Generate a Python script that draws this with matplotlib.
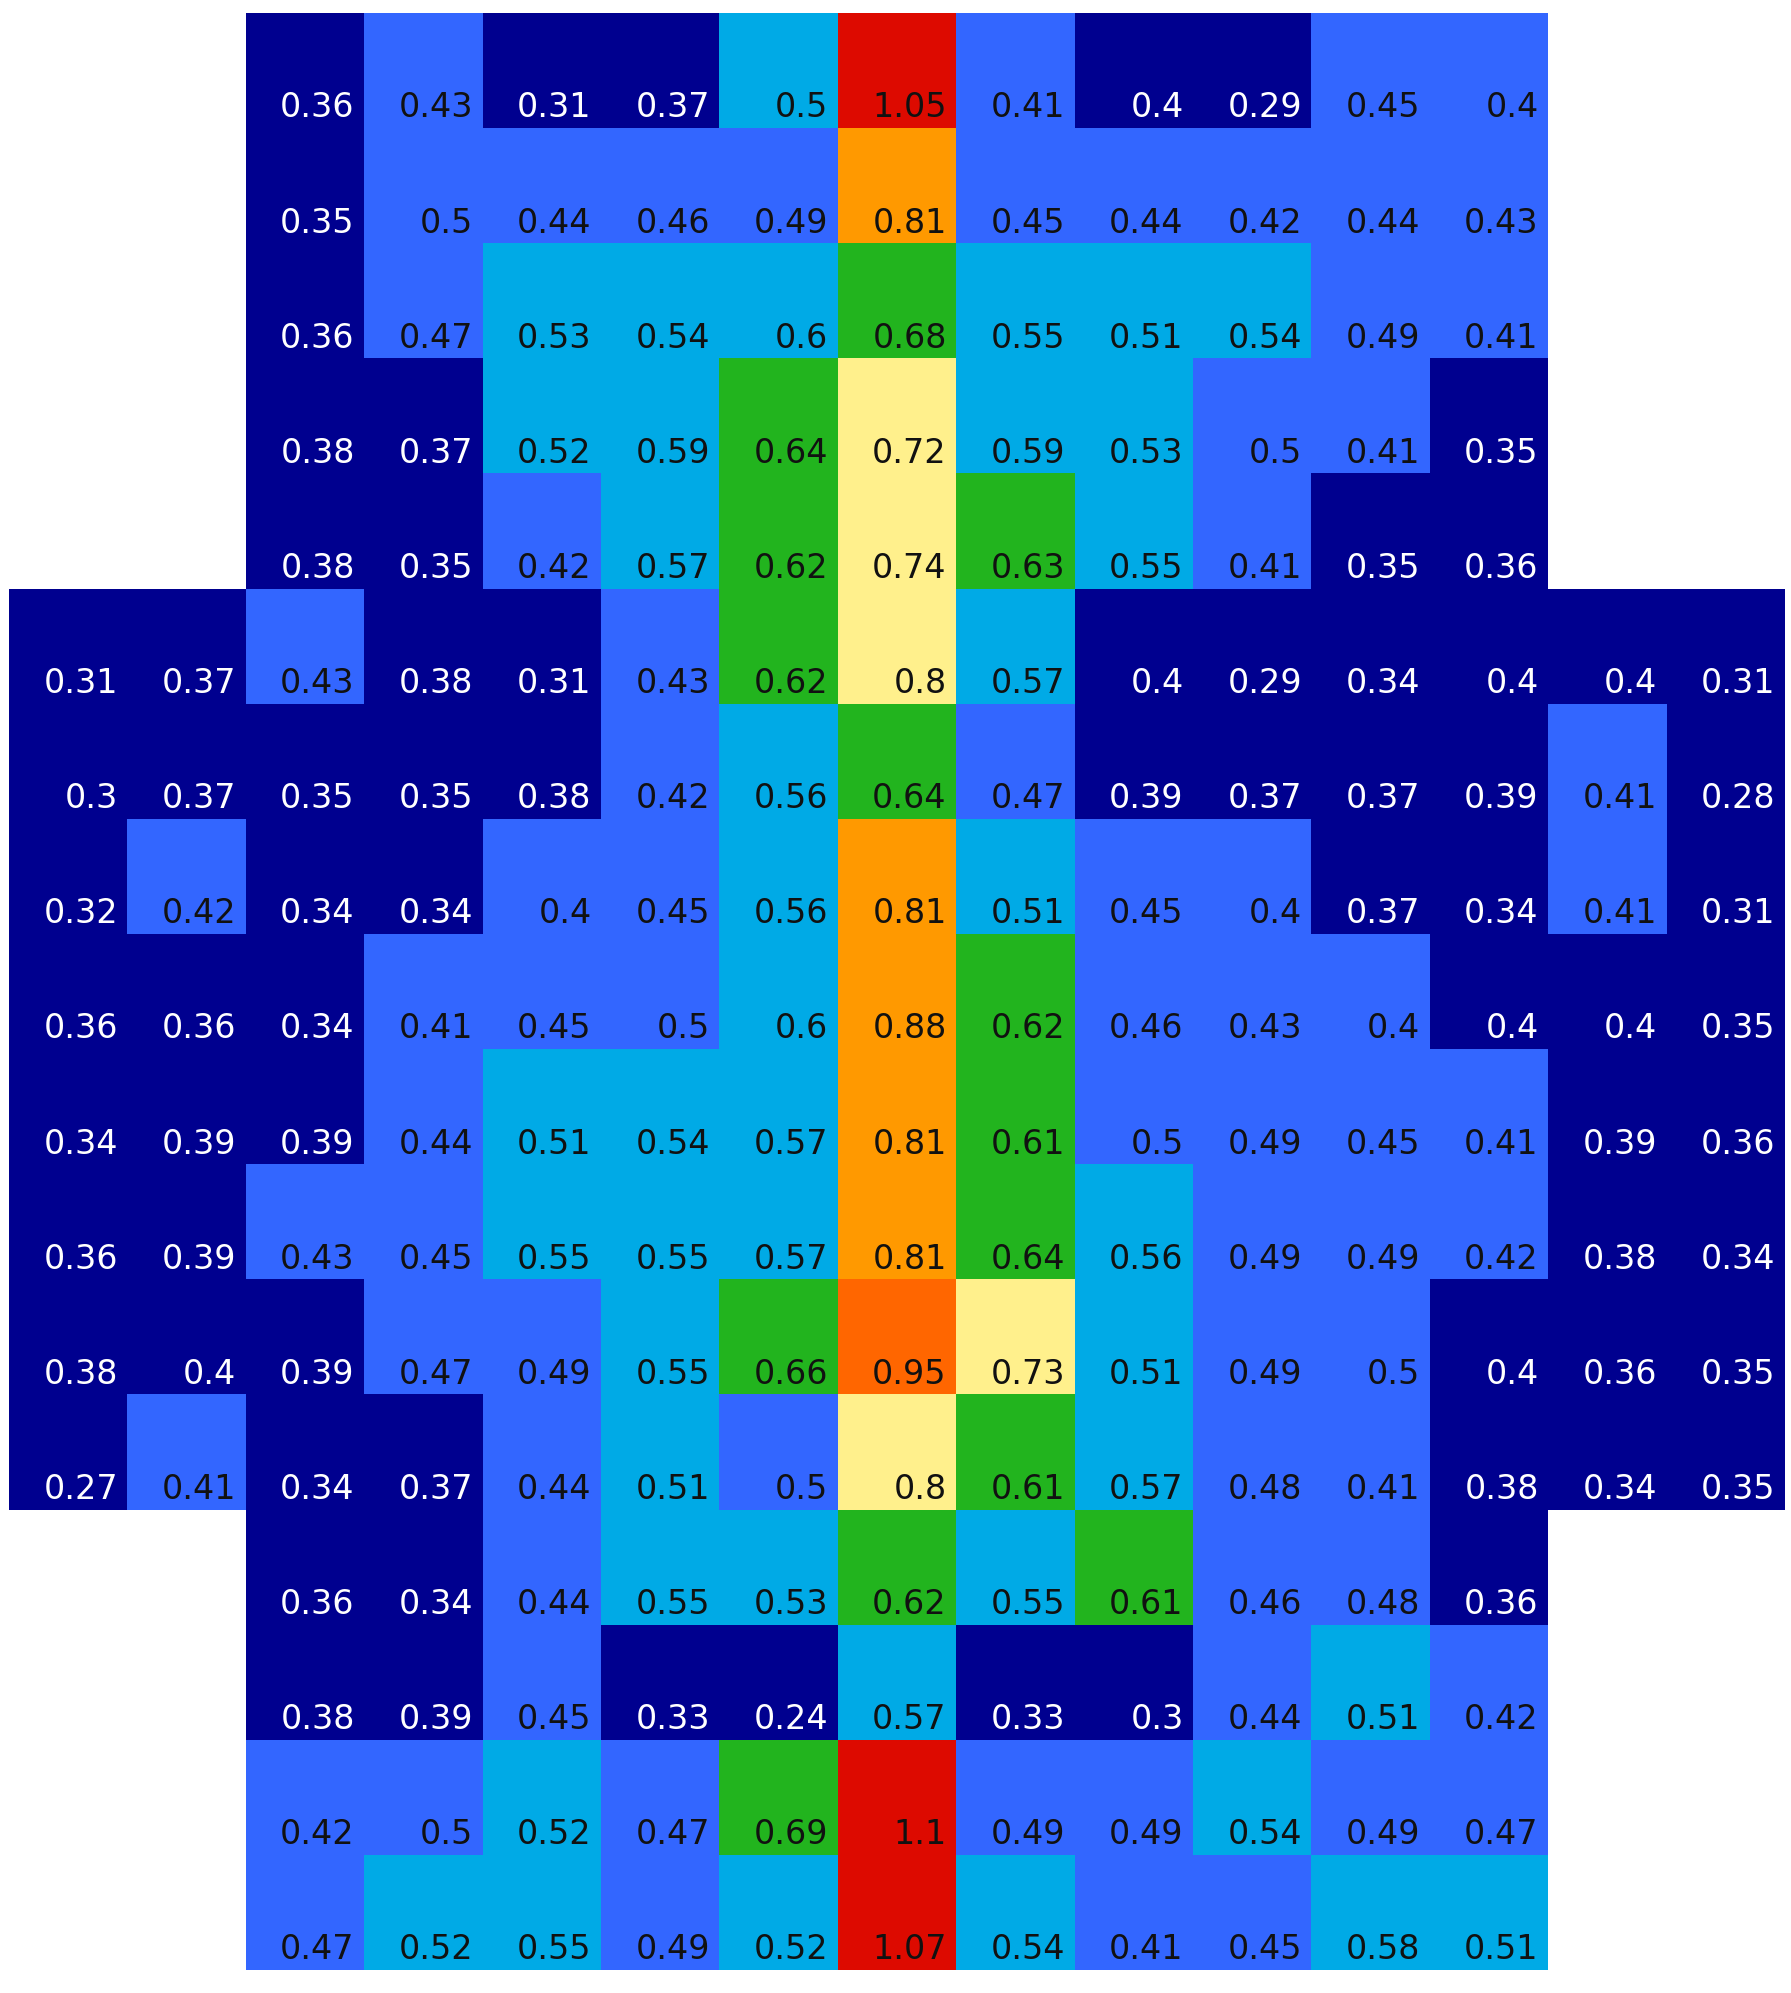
import numpy as np
import matplotlib
matplotlib.use("Agg")
import matplotlib.pyplot as plt
from matplotlib.colors import ListedColormap, BoundaryNorm

# Top block: rows 0-4, columns 2-12
top_block = [
    [0.36, 0.43, 0.31, 0.37, 0.502, 1.05, 0.41, 0.398, 0.29, 0.45, 0.402],
    [0.35, 0.498, 0.44, 0.46, 0.49, 0.81, 0.45, 0.44, 0.42, 0.44, 0.43],
    [0.36, 0.47, 0.53, 0.54, 0.598, 0.68, 0.55, 0.51, 0.54, 0.49, 0.41],
    [0.38, 0.37, 0.52, 0.59, 0.64, 0.72, 0.59, 0.53, 0.498, 0.41, 0.35],
    [0.38, 0.35, 0.42, 0.57, 0.62, 0.74, 0.63, 0.55, 0.41, 0.35, 0.36],
]
# Middle block: rows 5-12, columns 0-14
middle_block = [
    [0.31, 0.37, 0.43, 0.38, 0.31, 0.43, 0.62, 0.798, 0.57, 0.398, 0.29, 0.34, 0.398, 0.398, 0.31],
    [0.30, 0.37, 0.35, 0.35, 0.38, 0.42, 0.56, 0.64, 0.47, 0.39, 0.37, 0.37, 0.39, 0.41, 0.28],
    [0.32, 0.42, 0.34, 0.34, 0.402, 0.45, 0.56, 0.81, 0.51, 0.45, 0.402, 0.37, 0.34, 0.41, 0.31],
    [0.36, 0.36, 0.34, 0.41, 0.45, 0.498, 0.598, 0.88, 0.62, 0.46, 0.43, 0.402, 0.398, 0.398, 0.35],
    [0.34, 0.39, 0.39, 0.44, 0.51, 0.54, 0.57, 0.81, 0.61, 0.498, 0.49, 0.45, 0.41, 0.39, 0.36],
    [0.36, 0.39, 0.43, 0.45, 0.55, 0.55, 0.57, 0.81, 0.64, 0.56, 0.49, 0.49, 0.42, 0.38, 0.34],
    [0.38, 0.398, 0.39, 0.47, 0.49, 0.55, 0.66, 0.95, 0.73, 0.51, 0.49, 0.498, 0.398, 0.36, 0.35],
    [0.27, 0.41, 0.34, 0.37, 0.44, 0.51, 0.498, 0.798, 0.61, 0.57, 0.48, 0.41, 0.38, 0.34, 0.35],
]
# Bottom block: rows 13-16, columns 2-12
bottom_block = [
    [0.36, 0.34, 0.44, 0.55, 0.53, 0.62, 0.55, 0.61, 0.46, 0.48, 0.36],
    [0.38, 0.39, 0.45, 0.33, 0.24, 0.57, 0.33, 0.30, 0.44, 0.51, 0.42],
    [0.42, 0.498, 0.52, 0.47, 0.69, 1.10, 0.49, 0.49, 0.54, 0.49, 0.47],
    [0.47, 0.52, 0.55, 0.49, 0.52, 1.07, 0.54, 0.41, 0.45, 0.58, 0.51],
]

level_bounds = [0.0, 0.4, 0.5, 0.6, 0.7, 0.8, 0.9, 1.0, 2.0]
level_colors = ["#00008F", "#3366FF", "#00AAE6", "#22B41E",
                "#FFF08C", "#FF9900", "#FF6600", "#DD0A00"]

n_cols = 15
n_rows = len(top_block) + len(middle_block) + len(bottom_block)
grid = np.full((n_rows, n_cols), np.nan)
r = 0
for block, c0 in ((top_block, 2), (middle_block, 0), (bottom_block, 2)):
    for row in block:
        grid[r, c0:c0 + len(row)] = row
        r += 1

cmap = ListedColormap(level_colors)
norm = BoundaryNorm(level_bounds, cmap.N)

W, H = 1791, 1993
fig = plt.figure(figsize=(W / 100, H / 100), dpi=100)
ax = fig.add_axes([9 / W, 1 - 1970 / H, (1785 - 9) / W, (1970 - 13) / H])
ax.pcolormesh(np.ma.masked_invalid(grid), cmap=cmap, norm=norm)
ax.set_xlim(0, n_cols)
ax.set_ylim(n_rows, 0)
ax.axis("off")

for i in range(n_rows):
    for j in range(n_cols):
        v = grid[i, j]
        if np.isnan(v):
            continue
        s = f"{v:.2f}".rstrip("0").rstrip(".")
        color = "white" if v < 0.4 else "#111111"
        ax.text(j + 1 - 0.08, i + 0.825, s, ha="right", va="center",
                fontsize=24, color=color, family="DejaVu Sans")

fig.savefig("out.png", dpi=100, facecolor="white")
